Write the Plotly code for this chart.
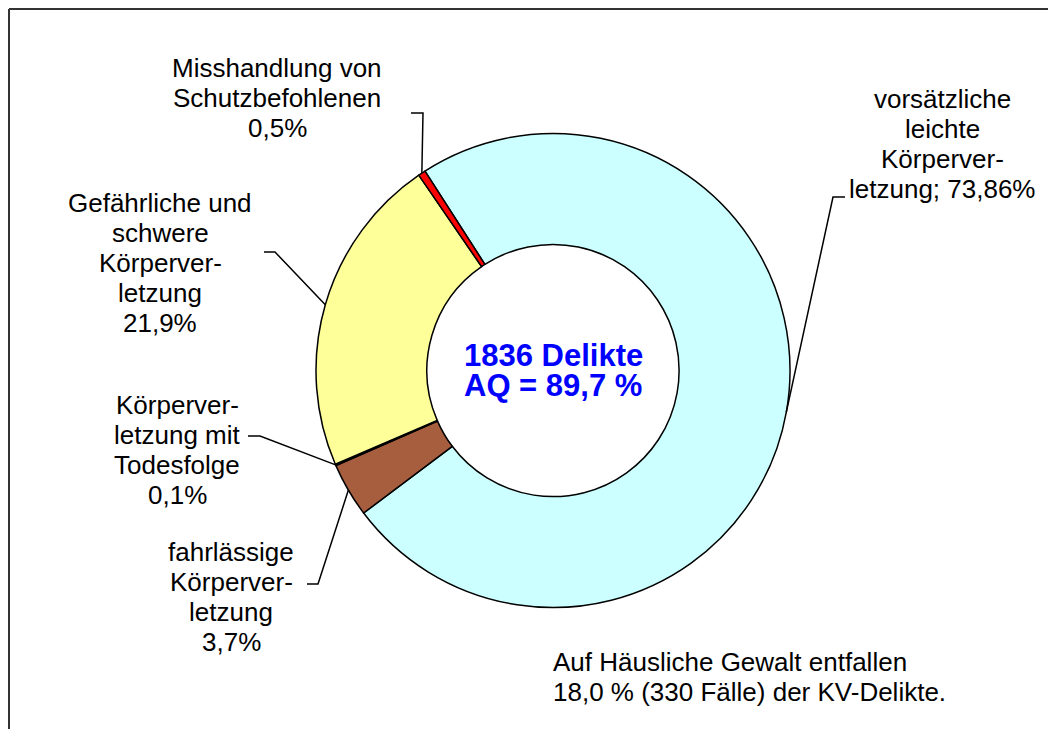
import math
import plotly.graph_objects as go

# ---- data ----
labels = [
    "vorsätzliche leichte Körperverletzung",
    "fahrlässige Körperverletzung",
    "Körperverletzung mit Todesfolge",
    "Gefährliche und schwere Körperverletzung",
    "Misshandlung von Schutzbefohlenen",
]
values = [73.86, 3.7, 0.1, 21.9, 0.5]
colors = ["#CCFFFF", "#A65E3F", "#000000", "#FFFF99", "#FF0000"]
label_lines = [
    ["vorsätzliche", "leichte", "Körperver-", "letzung; 73,86%"],
    ["fahrlässige", "Körperver-", "letzung", "3,7%"],
    ["Körperver-", "letzung mit", "Todesfolge", "0,1%"],
    ["Gefährliche und", "schwere", "Körperver-", "letzung", "21,9%"],
    ["Misshandlung von", "Schutzbefohlenen", "0,5%"],
]
center_lines = ["1836 Delikte", "AQ = 89,7 %"]
note_lines = ["Auf Häusliche Gewalt entfallen", "18,0 % (330 Fälle) der KV-Delikte."]

# ---- layout geometry (window pixels; page body has an 8px margin) ----
OFF = 8
W, H = 1056 - OFF, 729 - OFF
CX, CY, R = 553, 370.5, 237
ROT = -32.7
LINE_H = 30
FONT = "Liberation Sans, Arial, sans-serif"

# label text placement: (center x, first line y) and leader elbow (start, elbow)
label_pos = [(942, 99), (231, 552), (177, 405), (160, 203), (277, 68)]
leader_elbow = [((845, 197), (833, 197)),
                ((307, 584), (318, 584)),
                ((248, 436), (260, 436)),
                ((264, 252), (275, 252)),
                ((411, 113), (423, 113))]


def px(x):
    return (x - OFF) / W


def py(y):
    return 1 - (y - OFF) / H


fig = go.Figure(go.Pie(
    labels=labels, values=values, sort=False, direction="clockwise",
    rotation=ROT, hole=0.532, textinfo="none",
    marker=dict(colors=colors, line=dict(color="black", width=1.5)),
    domain=dict(x=[px(CX - R), px(CX + R)], y=[py(CY + R), py(CY - R)]),
    showlegend=False,
))

annotations = []
shapes = []
total = sum(values)
cum = 0.0
for i, v in enumerate(values):
    mid = math.radians(ROT + (cum + v / 2) / total * 360)
    cum += v
    ex = CX + R * math.sin(mid)
    ey = CY - R * math.cos(mid)
    (sx, sy), (bx, by) = leader_elbow[i]
    shapes.append(dict(type="path", xref="paper", yref="paper",
                       path=f"M {px(sx)},{py(sy)} L {px(bx)},{py(by)} L {px(ex)},{py(ey)}",
                       line=dict(color="black", width=1.5)))
    lx, ly = label_pos[i]
    for k, t in enumerate(label_lines[i]):
        annotations.append(dict(text=t, x=px(lx), y=py(ly + k * LINE_H), xref="paper", yref="paper",
                                xanchor="center", yanchor="middle", showarrow=False,
                                font=dict(family=FONT, size=26, color="black")))

for k, t in enumerate(center_lines):
    annotations.append(dict(text=f"<b>{t}</b>", x=px(CX), y=py(355 + k * LINE_H), xref="paper", yref="paper",
                            xanchor="center", yanchor="middle", showarrow=False,
                            font=dict(family=FONT, size=31, color="#0000FF")))

for k, t in enumerate(note_lines):
    annotations.append(dict(text=t, x=px(551), y=py(662 + k * LINE_H), xref="paper", yref="paper",
                            xanchor="left", yanchor="middle", showarrow=False,
                            font=dict(family=FONT, size=26, color="black")))

# chart frame (top and left edges visible)
FX, FY = OFF + 1, OFF + 1
shapes.append(dict(type="line", xref="paper", yref="paper", x0=px(FX), y0=py(FY), x1=px(1060), y1=py(FY),
                   line=dict(color="#333333", width=2)))
shapes.append(dict(type="line", xref="paper", yref="paper", x0=px(FX), y0=py(FY), x1=px(FX), y1=py(735),
                   line=dict(color="#333333", width=2)))

fig.update_layout(width=W, height=H, margin=dict(l=0, r=0, t=0, b=0),
                  paper_bgcolor="white", plot_bgcolor="white",
                  annotations=annotations, shapes=shapes)

fig.write_html("out.html")
